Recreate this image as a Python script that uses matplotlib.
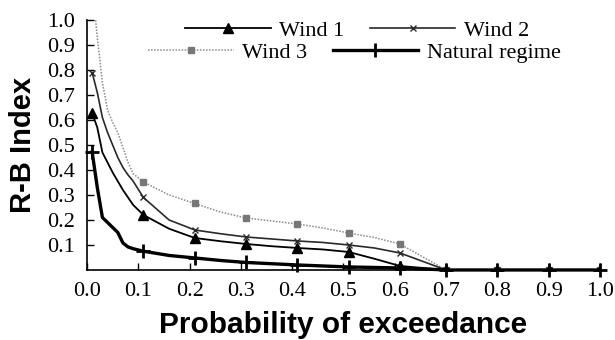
import matplotlib
matplotlib.use("Agg")
import matplotlib.pyplot as plt

x = [0.01, 0.02, 0.03, 0.04, 0.05, 0.06, 0.07, 0.08, 0.09, 0.11, 0.16, 0.21,
     0.26, 0.31, 0.36, 0.41, 0.46, 0.51, 0.56, 0.61, 0.70, 0.80, 0.90, 1.00]
marker_idx = [0, 9, 11, 13, 15, 17, 19, 20, 21, 22, 23]

wind1 = [0.628, 0.57, 0.47, 0.43, 0.39, 0.355, 0.32, 0.29, 0.26, 0.22, 0.165, 0.128,
         0.115, 0.104, 0.095, 0.088, 0.082, 0.072, 0.045, 0.016, 0.0, 0.0, 0.0, 0.0]
wind2 = [0.79, 0.71, 0.61, 0.55, 0.50, 0.45, 0.41, 0.38, 0.355, 0.29, 0.20, 0.16,
         0.145, 0.132, 0.124, 0.116, 0.11, 0.10, 0.088, 0.068, 0.0, 0.0, 0.0, 0.0]
wind3 = [1.15, 0.93, 0.75, 0.64, 0.59, 0.55, 0.49, 0.43, 0.385, 0.352, 0.30, 0.266,
         0.232, 0.208, 0.196, 0.184, 0.168, 0.148, 0.13, 0.104, 0.0, 0.0, 0.0, 0.0]
natural = [0.472, 0.33, 0.21, 0.19, 0.17, 0.15, 0.108, 0.092, 0.085, 0.075, 0.058, 0.048,
           0.038, 0.03, 0.025, 0.02, 0.016, 0.012, 0.01, 0.008, 0.0, 0.0, 0.0, 0.0]

xticks = [0.0, 0.1, 0.2, 0.3, 0.4, 0.5, 0.6, 0.7, 0.8, 0.9, 1.0]
yticks = [0.1, 0.2, 0.3, 0.4, 0.5, 0.6, 0.7, 0.8, 0.9, 1.0]

serif = ["Liberation Serif", "DejaVu Serif"]
sans = ["Liberation Sans", "DejaVu Sans"]

fig = plt.figure(figsize=(6.15, 3.4), dpi=100)
ax = fig.add_axes([0.1415, 0.206, 0.834, 0.735])

l3, = ax.plot(x, wind3, color="#8a8a8a", lw=1.1, ls=(0, (1, 1)), marker="s", ms=5,
              mfc="#777777", mec="#777777", markevery=marker_idx, zorder=2)
l2, = ax.plot(x, wind2, color="#2a2a2a", lw=1.2, marker="x", ms=4, mew=1,
              markevery=marker_idx, zorder=3)
l1, = ax.plot(x, wind1, color="black", lw=1.3, marker="^", ms=6.5,
              markevery=marker_idx, zorder=4)
ln, = ax.plot(x, natural, color="black", lw=2.4, marker="+", ms=10, mew=2,
              markevery=marker_idx, zorder=5, clip_on=False)

ax.set_xlim(0, 1.0)
ax.set_ylim(0, 1.0)
ax.set_xticks(xticks)
ax.set_yticks(yticks)
ax.set_xticklabels([f"{v:.1f}" for v in xticks], fontfamily=serif, fontsize=16)
ax.set_yticklabels([f"{v:.1f}" for v in yticks], fontfamily=serif, fontsize=16)
ax.tick_params(axis="x", direction="in", length=5, width=1, pad=9)
ax.tick_params(axis="y", direction="in", length=5, width=1, pad=9)
for s in ["top", "right"]:
    ax.spines[s].set_visible(False)
for s in ["left", "bottom"]:
    ax.spines[s].set_linewidth(1.2)

ax.set_xlabel("Probability of exceedance", fontfamily=sans, fontweight="bold",
              fontsize=21.5, labelpad=7)
ax.set_ylabel("R-B Index", fontfamily=sans, fontweight="bold", fontsize=21, labelpad=7)

leg_kw = dict(ncol=2, frameon=False, loc="center left", handlelength=3.85,
              numpoints=1, prop={"family": serif, "size": 16},
              handletextpad=0.4, borderpad=0, borderaxespad=0,
              columnspacing=1.13, bbox_transform=fig.transFigure)
leg1 = ax.legend([l1, l2], ["Wind 1", "Wind 2"],
                 bbox_to_anchor=(185 / 615, 1 - 31 / 340), **leg_kw)
ax.add_artist(leg1)
leg2 = ax.legend([l3, ln], ["Wind 3", "Natural regime"],
                 bbox_to_anchor=(148 / 615, 1 - 53 / 340), **leg_kw)

fig.savefig("out.png", dpi=100)
